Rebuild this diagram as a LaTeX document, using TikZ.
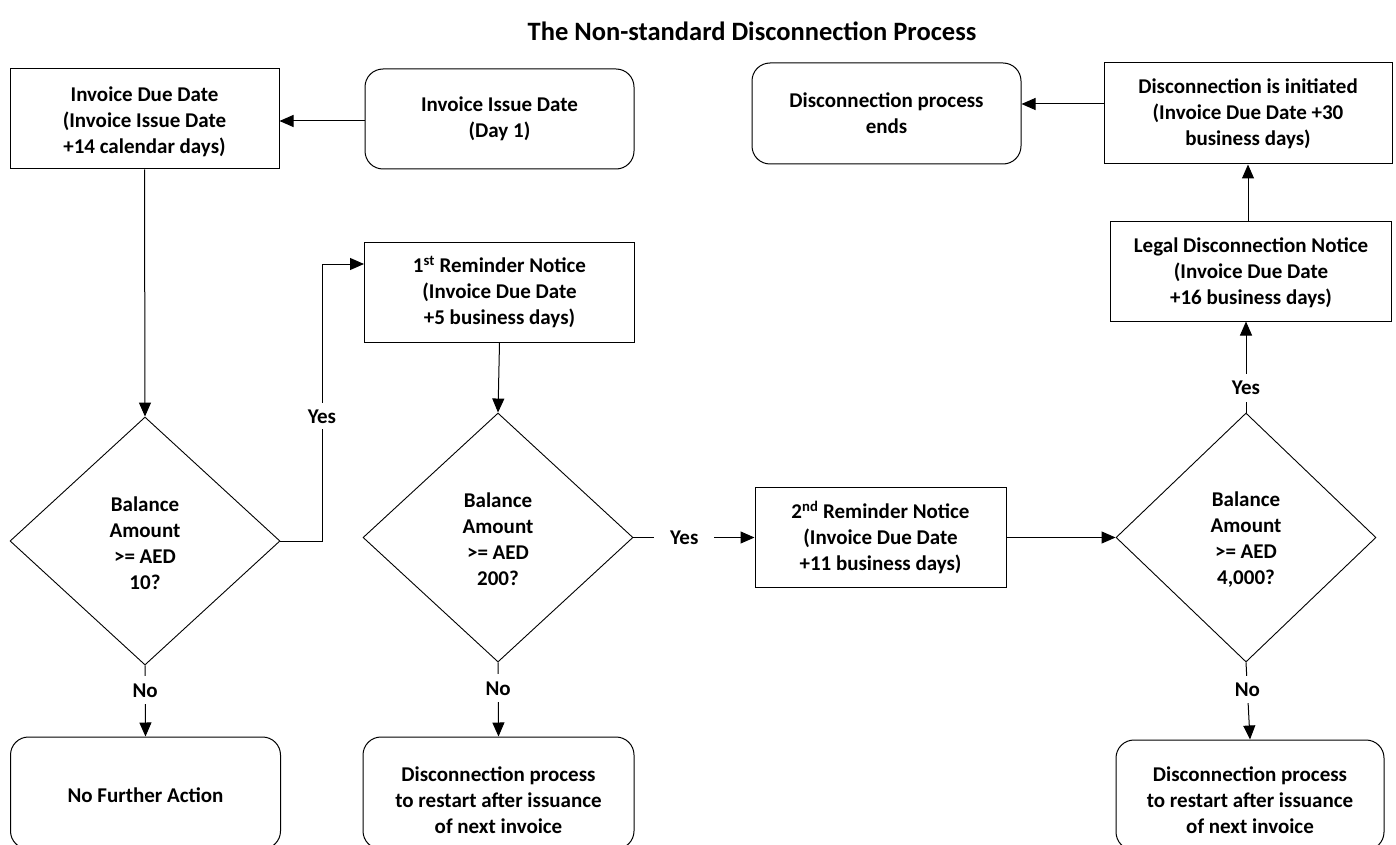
\documentclass[tikz,border=0pt]{standalone}
\usepackage{fontspec}
\setmainfont{Carlito}
\usetikzlibrary{shapes.geometric,arrows.meta}
\begin{document}
\begin{tikzpicture}[x=1pt,y=-1pt,
  every node/.style={font=\bfseries\fontsize{21}{26}\selectfont, align=center},
  box/.style={draw, line width=1pt, inner sep=2pt},
  rbox/.style={box, rounded corners=18pt},
  dec/.style={draw, diamond, line width=0.9pt, inner sep=0pt, aspect=1.08},
  lbl/.style={fill=white, inner sep=3pt},
  arr/.style={line width=1pt, -{Triangle[length=14pt,width=12pt]}},
  ln/.style={line width=1pt}]
\useasboundingbox (0,0) rectangle (1396,845);
\clip (0,0) rectangle (1396,845);
\node (title) at (752,31) {\fontsize{26.5}{30}\selectfont The Non-standard Disconnection Process};
\node[box, minimum width=269pt, minimum height=100pt] (a) at (144.5,119) {};
\node (at) at (144.5,121.5) {Invoice Due Date\\(Invoice Issue Date\\+14 calendar days)};
\node[rbox, minimum width=269pt, minimum height=100pt] (b) at (499.5,119) {Invoice Issue Date\\(Day 1)};
\node[box, minimum width=270pt, minimum height=100pt] (c) at (499.5,292) {1\textsuperscript{st} Reminder Notice\\(Invoice Due Date\\+5 business days)};
\node[box, minimum width=251pt, minimum height=100pt] (d) at (880.5,537.5) {2\textsuperscript{nd} Reminder Notice\\(Invoice Due Date\\+11 business days)};
\node[box, minimum width=281pt, minimum height=100pt] (e) at (1251,271) {};
\node (et) at (1251,273) {Legal Disconnection Notice\\(Invoice Due Date\\+16 business days)};
\node[box, minimum width=288pt, minimum height=101pt] (f) at (1248,113.5) {Disconnection is initiated\\(Invoice Due Date +30\\business days)};
\node[rbox, minimum width=269pt, minimum height=101pt] (g) at (886.5,113.5) {Disconnection process\\ends};
\node[dec, minimum width=270pt, minimum height=248pt] (d1) at (145,541) {};
\node (d1t) at (145,543) {Balance\\Amount\\>= AED\\10?};
\node[dec, minimum width=270pt, minimum height=249pt] (d2) at (498,537.5) {};
\node (d2t) at (498,539.5) {Balance\\Amount\\>= AED\\200?};
\node[dec, minimum width=260pt, minimum height=249pt] (d3) at (1246,537.5) {};
\node (d3t) at (1246,539.5) {Balance\\Amount\\>= AED\\4,000?};
\node[rbox, minimum width=270pt, minimum height=112pt] (h) at (145.5,793) {};
\node (ht) at (145.5,795) {No Further Action};
\node[rbox, minimum width=271pt, minimum height=112pt] (i) at (498.5,793) {};
\node (it) at (498.5,800) {Disconnection process\\to restart after issuance\\of next invoice};
\node[rbox, minimum width=268pt, minimum height=110pt] (j) at (1250,795) {};
\node (jt) at (1250,800) {Disconnection process\\to restart after issuance\\of next invoice};
\coordinate (y1a) at (322,541);
\coordinate (y1b) at (322,264);
% connectors
\draw[arr] (b.west |- 0,121) -- (a.east |- 0,121);
\draw[arr] (a.south) -- (d1.north);
\draw[arr] (d1.east) -- (y1a) -- node[lbl, pos=0.45, inner ysep=6pt] {Yes} (y1b) -- (c.west |- y1b);
\draw[arr] (c.south) -- (d2.north);
\draw[arr] (d2.east) -- node[lbl, pos=0.42, inner xsep=16pt] {Yes} (d.west);
\draw[arr] (d.east) -- (d3.west);
\draw[arr] (d3.north) -- node[lbl, pos=0.27, inner ysep=7pt] {Yes} (e.south -| d3.north);
\draw[arr] (e.north -| f.south) -- (f.south);
\draw[arr] (f.west |- 0,104) -- (g.east |- 0,104);
\draw[arr] (d1.south) -- node[lbl, pos=0.35, inner ysep=7pt] {No} (h.north);
\draw[arr] (d2.south) -- node[lbl, pos=0.35, inner ysep=7pt] {No} (i.north);
\draw[arr] (d3.south) -- node[lbl, pos=0.35, inner ysep=7pt] {No} (j.north);
\end{tikzpicture}
\end{document}
